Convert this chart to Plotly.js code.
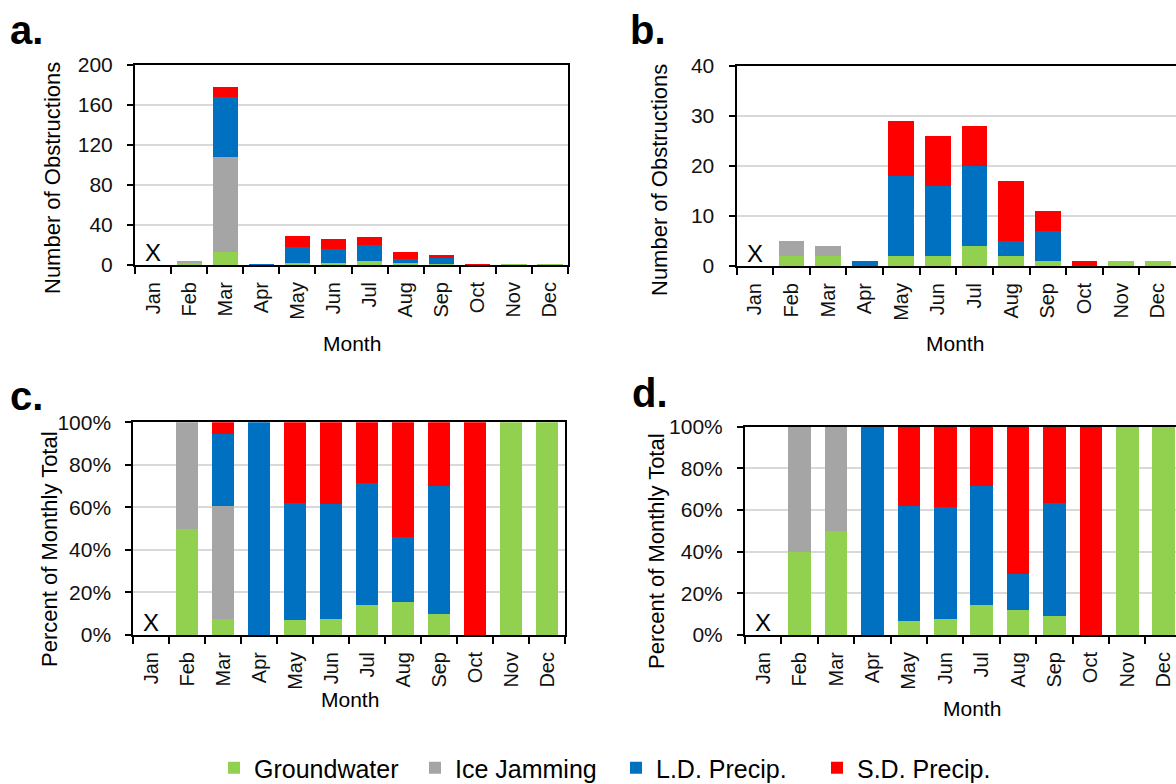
<!DOCTYPE html>
<html>
<head>
<meta charset="utf-8">
<script src="https://cdn.plot.ly/plotly-3.0.1.min.js"></script>
<style>html,body{margin:0;padding:0;background:#fff;}#chart{width:1176px;height:784px;}</style>
</head>
<body>
<div id="chart"></div>
<script>
// ---- Data ----
const months = ['Jan','Feb','Mar','Apr','May','Jun','Jul','Aug','Sep','Oct','Nov','Dec'];
const seriesNames = ['Groundwater','Ice Jamming','L.D. Precip.','S.D. Precip.'];
const seriesColors = ['#92D050','#A5A5A5','#0070C0','#FF0000'];

// Panel a: number of obstructions
const groundwaterA = [0,2,13,0,2,2,4,2,1,0,1,1];
const iceJammingA  = [0,2,95,0,0,0,0,0,0,0,0,0];
const ldPrecipA    = [0,0,60,1,16,14,16,4,6,0,0,0];
const sdPrecipA    = [0,0,10,0,11,10,8,7,3,1,0,0];

// Panel b: number of obstructions
const groundwaterB = [0,2,2,0,2,2,4,2,1,0,1,1];
const iceJammingB  = [0,3,2,0,0,0,0,0,0,0,0,0];
const ldPrecipB    = [0,0,0,1,16,14,16,3,6,0,0,0];
const sdPrecipB    = [0,0,0,0,11,10,8,12,4,1,0,0];

// Panel c: percent of monthly total
const groundwaterC = [0,50,7.3,0,6.9,7.7,14.3,15.4,10,0,100,100];
const iceJammingC  = [0,50,53.4,0,0,0,0,0,0,0,0,0];
const ldPrecipC    = [0,0,33.7,100,55.2,53.8,57.1,30.8,60,0,0,0];
const sdPrecipC    = [0,0,5.6,0,37.9,38.5,28.6,53.8,30,100,0,0];

// Panel d: percent of monthly total
const groundwaterD = [0,40,50,0,6.9,7.7,14.3,11.8,9.1,0,100,100];
const iceJammingD  = [0,60,50,0,0,0,0,0,0,0,0,0];
const ldPrecipD    = [0,0,0,100,55.2,53.8,57.1,17.6,54.5,0,0,0];
const sdPrecipD    = [0,0,0,0,37.9,38.5,28.6,70.6,36.4,100,0,0];

const yTicksA = [0,40,80,120,160,200];
const yTicksB = [0,10,20,30,40];
const yTicksPct = [0,20,40,60,80,100];

// ---- Build traces ----
const W = 1176, H = 784;
const FONT = 'Liberation Sans, Arial, sans-serif';
const traces = [];
function addPanel(seriesList, xa, ya, width, showLegend) {
  seriesList.forEach((vals, i) => {
    traces.push({
      type: 'bar', x: months, y: vals, name: seriesNames[i],
      marker: {color: seriesColors[i], line: {width: 0}},
      width: width, xaxis: xa, yaxis: ya,
      showlegend: showLegend, legendgroup: seriesNames[i],
      hoverinfo: 'x+y+name'
    });
  });
}
addPanel([groundwaterA, iceJammingA, ldPrecipA, sdPrecipA], 'x', 'y', 0.7, true);
addPanel([groundwaterB, iceJammingB, ldPrecipB, sdPrecipB], 'x2', 'y2', 0.7, false);
addPanel([groundwaterC, iceJammingC, ldPrecipC, sdPrecipC], 'x3', 'y3', 0.62, false);
addPanel([groundwaterD, iceJammingD, ldPrecipD, sdPrecipD], 'x4', 'y4', 0.62, false);

function px(x) { return x / W; }
function py(y) { return 1 - y / H; }

function xAxis(x0, x1, anchor, rangeEnd) {
  return {
    domain: [px(x0), Math.min(1, px(x1))], anchor: anchor,
    type: 'category', range: [-0.5, rangeEnd],
    showline: true, linecolor: '#000', linewidth: 2, mirror: true,
    ticks: 'outside', tickson: 'boundaries', ticklen: 7, tickwidth: 2, tickcolor: '#000',
    tickangle: -90, tickfont: {family: FONT, size: 20, color: '#111'},
    showgrid: false, zeroline: false, fixedrange: true, ticklabelstandoff: 7
  };
}
function yAxis(y0, y1, anchor, range, ticks, suffix) {
  return {
    domain: [py(y1), py(y0)], anchor: anchor, range: range,
    tickmode: 'array', tickvals: ticks, ticktext: ticks.map(t => t + suffix),
    showline: true, linecolor: '#000', linewidth: 2, mirror: true,
    ticks: 'outside', ticklen: 6, tickwidth: 2, tickcolor: '#000',
    tickfont: {family: FONT, size: 21, color: '#111'},
    showgrid: true, gridcolor: '#d9d9d9', gridwidth: 2,
    zeroline: false, fixedrange: true, ticklabelstandoff: 10
  };
}

const ann = [];
function label(text, x, y, size, opts) {
  ann.push(Object.assign({text: text, xref: 'paper', yref: 'paper', x: px(x), y: py(y),
    xanchor: 'center', yanchor: 'middle',
    showarrow: false, font: {family: FONT, size: size, color: '#000'}}, opts || {}));
}
// panel letters
label('<b>a.</b>', 8, 30, 40, {xanchor: 'left'});
label('<b>b.</b>', 628, 30, 40, {xanchor: 'left'});
label('<b>c.</b>', 8, 396, 40, {xanchor: 'left'});
label('<b>d.</b>', 630, 393, 40, {xanchor: 'left'});
// axis titles
label('Number of Obstructions', 52, 178, 22, {textangle: -90});
label('Number of Obstructions', 660, 180, 22, {textangle: -90});
label('Percent of Monthly Total', 49, 549, 22, {textangle: -90});
label('Percent of Monthly Total', 656, 551, 22, {textangle: -90});
label('Month', 352, 343, 21);
label('Month', 955, 343, 21);
label('Month', 350, 699, 21);
label('Month', 972, 708, 21);
// "X" markers on January (no data)
['x','x2','x3','x4'].forEach((xa, i) => {
  ann.push({text: 'X', x: 'Jan', y: 0, xref: xa, yref: 'y' + (i ? i + 1 : ''),
    xanchor: 'center', yanchor: 'bottom', showarrow: false, yshift: -3,
    font: {family: FONT, size: 24, color: '#000'}});
});

const layout = {
  width: W, height: H,
  margin: {l: 0, r: 0, t: 0, b: 0, autoexpand: false},
  paper_bgcolor: '#fff', plot_bgcolor: '#fff',
  barmode: 'stack',
  font: {family: FONT, color: '#000'},
  xaxis:  xAxis(135, 568, 'y', 11.5),
  yaxis:  yAxis(65, 265, 'x', [0, 200], yTicksA, ''),
  xaxis2: xAxis(736.5, 1176, 'y2', 11.5),
  yaxis2: yAxis(66, 266, 'x2', [0, 40], yTicksB, ''),
  xaxis3: xAxis(133.3, 565, 'y3', 11.5),
  yaxis3: yAxis(422.3, 635, 'x3', [0, 100], yTicksPct, '%'),
  xaxis4: xAxis(745, 1176, 'y4', 11.34),
  yaxis4: yAxis(426.7, 635, 'x4', [0, 100], yTicksPct, '%'),
  showlegend: true,
  legend: {orientation: 'h', x: px(214), xanchor: 'left', y: py(768), yanchor: 'middle',
    font: {family: FONT, size: 25, color: '#000'}, traceorder: 'normal',
    entrywidth: 156, entrywidthmode: 'pixels', bgcolor: 'rgba(0,0,0,0)'},
  annotations: ann
};

Plotly.newPlot('chart', traces, layout, {staticPlot: true, displayModeBar: false});
</script>
</body>
</html>
